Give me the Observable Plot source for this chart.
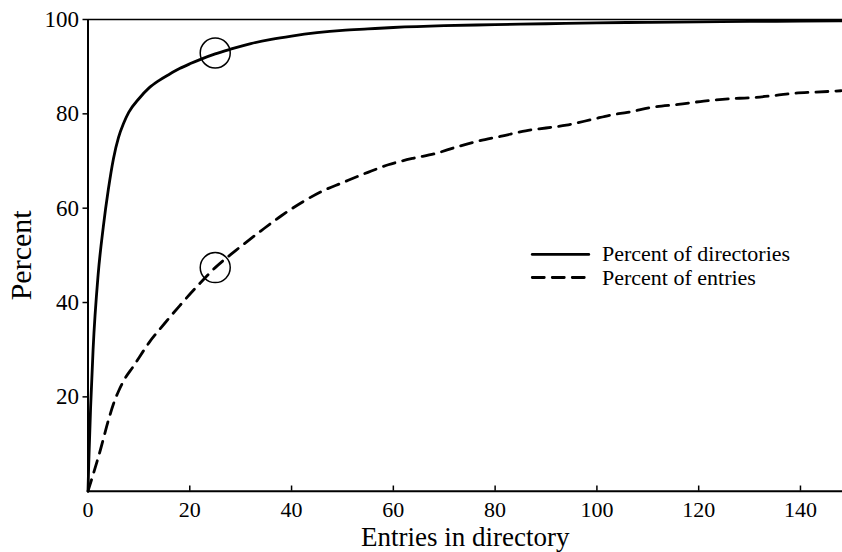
<!DOCTYPE html>
<html>
<head>
<meta charset="utf-8">
<script src="https://cdn.jsdelivr.net/npm/d3@7"></script>
<script src="https://cdn.jsdelivr.net/npm/@observablehq/plot@0.6"></script>
<style>
  html, body { margin: 0; padding: 0; background: #fff; }
</style>
</head>
<body>
<div id="chart"></div>
<script>
// Percent of directories (solid)
const dirX = [0, 0.15, 1, 2, 3, 4, 5, 6, 7, 8, 10, 12, 14, 16, 18, 20, 22, 25, 28, 32, 36, 40, 45, 50, 55, 60, 70, 80, 90, 100, 110, 120, 130, 140, 148];
const dirY = [0, 6, 30, 46, 56, 64, 70.5, 75, 78, 80.3, 83.2, 85.5, 87.1, 88.4, 89.6, 90.6, 91.5, 92.7, 93.7, 94.9, 95.8, 96.5, 97.2, 97.7, 98.0, 98.3, 98.7, 98.9, 99.1, 99.3, 99.4, 99.5, 99.6, 99.65, 99.7];

// Percent of entries (dashed)
const entX = [0, 1, 2.5, 4, 5, 6, 7, 9, 12, 15, 18, 21.5, 25, 29, 34, 38, 42, 46, 50, 55, 59, 64, 68, 72.5, 77, 81, 86, 90, 94, 99, 103, 106, 111, 116, 121, 126, 130, 135, 139, 143, 148];
const entY = [0, 3.5, 9, 15, 18.5, 21.2, 23.4, 26.6, 31.5, 35.5, 39.3, 43.5, 47.4, 51, 55.2, 58.4, 61.2, 63.6, 65.4, 67.6, 69.2, 70.6, 71.5, 73, 74.3, 75.2, 76.4, 77, 77.6, 78.8, 79.8, 80.3, 81.4, 82, 82.7, 83.2, 83.4, 83.9, 84.4, 84.6, 84.9];

// Highlighted points (circles)
const markX = [25, 25];
const markY = [92.9, 47.4];

// Ticks and labels
const xTicks = [0, 20, 40, 60, 80, 100, 120, 140];
const yTicks = [20, 40, 60, 80, 100];
const xLabel = "Entries in directory";
const yLabel = "Percent";
const seriesNames = ["Percent of directories", "Percent of entries"];

const dirData = dirX.map((x, i) => ({x, y: dirY[i]}));
const entData = entX.map((x, i) => ({x, y: entY[i]}));
const markData = markX.map((x, i) => ({x, y: markY[i]}));

// legend placement (in data units)
const legX1 = 87.3, legX2 = 98.4, legTextX = 101;
const legY = [50.2, 45.3];
const legLines = [
  [{x: legX1, y: legY[0]}, {x: legX2, y: legY[0]}],
  [{x: legX1, y: legY[1]}, {x: legX2, y: legY[1]}]
];
const legText = seriesNames.map((t, i) => ({x: legTextX, y: legY[i], t}));

const FONT = "'Liberation Serif', 'Times New Roman', serif";

const chart = Plot.plot({
  width: 842,
  height: 552,
  marginLeft: 87.5,
  marginRight: 0,
  marginTop: 19,
  marginBottom: 61.3,
  style: {fontFamily: FONT, fontSize: "22px", color: "black", background: "white"},
  x: {domain: [0, 148.26]},
  y: {domain: [0, 100]},
  marks: [
    Plot.axisY({ticks: yTicks, tickSize: 5, tickPadding: 4, strokeWidth: 1.5, label: null, fontSize: 23}),
    Plot.axisX({ticks: xTicks, tickSize: 0, tickPadding: 10, label: null, fontSize: 22}),
    Plot.ruleX(xTicks.filter(d => d > 0), {x: d => d, y1: 0, y2: 1.1, strokeWidth: 1.5}),
    Plot.ruleY([100], {strokeWidth: 1.5}),
    Plot.ruleX([0], {strokeWidth: 2}),
    Plot.ruleY([0], {strokeWidth: 2}),
    Plot.line(dirData, {x: "x", y: "y", curve: "monotone-x", strokeWidth: 2.8}),
    Plot.line(entData, {x: "x", y: "y", curve: "monotone-x", strokeWidth: 2.8, strokeDasharray: "12,8"}),
    Plot.dot(markData, {x: "x", y: "y", r: 15, stroke: "black", strokeWidth: 1.5, fill: "none"}),
    Plot.line(legLines[0], {x: "x", y: "y", strokeWidth: 2.8}),
    Plot.line(legLines[1], {x: "x", y: "y", strokeWidth: 2.8, strokeDasharray: "12,8"}),
    Plot.text(legText, {x: "x", y: "y", text: "t", textAnchor: "start", lineAnchor: "middle", fontSize: 22}),
    Plot.text([yLabel], {frameAnchor: "left", dx: -67, rotate: -90, textAnchor: "middle", lineAnchor: "middle", fontSize: 30}),
    Plot.text([xLabel], {frameAnchor: "bottom", dy: 46, textAnchor: "middle", lineAnchor: "middle", fontSize: 27})
  ]
});
document.getElementById("chart").appendChild(chart);
</script>
</body>
</html>
